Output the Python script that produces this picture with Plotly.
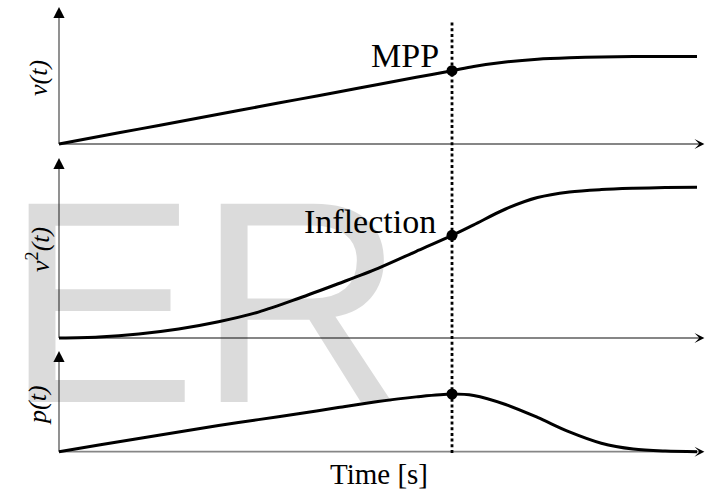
import plotly.graph_objects as go

# Time samples [s] and the three normalised signals
time_s = [0, 0.625, 1.25, 1.875, 2.5, 3.125, 3.75, 4.375, 5, 5.6, 6.16,
          6.5, 7, 7.5, 8, 8.5, 9, 9.5, 10]
velocity = [0, 0.085, 0.170, 0.255, 0.340, 0.425, 0.510, 0.595, 0.680, 0.762, 0.838,
            0.886, 0.937, 0.969, 0.985, 0.994, 0.999, 1.0, 1.0]
velocity_sq = [0, 0.007, 0.027, 0.060, 0.108, 0.172, 0.262, 0.360, 0.462, 0.575, 0.681,
               0.751, 0.856, 0.932, 0.969, 0.985, 0.993, 0.998, 1.0]
power = [0, 0.115, 0.229, 0.342, 0.454, 0.556, 0.657, 0.765, 0.870, 0.950, 1.0,
         0.974, 0.818, 0.594, 0.343, 0.147, 0.045, 0.010, 0]
mark_index = 10         # sample at the maximum power point
panel_labels = ["<i>v(t)</i>", "<i>v</i><sup>2</sup><i>(t)</i>", "<i>p(t)</i>"]
point_labels = ["MPP", "Inflection"]
x_title = "Time [s]"

W, H = 717, 489
SERIF = "Times New Roman"
AXIS_GREY = "#868686"


def fx(px):
    return px / W


def fy(px):
    return 1 - px / H


# pixel geometry of the three stacked panels
X_ORIGIN, X_END_DATA, X_ARROW = 59, 697, 707
BASE = [144, 338, 451.7]     # baseline of each panel
TIP = [4, 155, 348]          # top of each vertical arrow
UNIT = [87.5, 150.7, 57.7]   # pixels per signal unit
PAD = 6

x_scale = (X_END_DATA - X_ORIGIN) / time_s[-1]
x_range = [-PAD / x_scale, (W - X_ORIGIN) / x_scale]
x_domain = [fx(X_ORIGIN - PAD), 1.0]

fig = go.Figure()
series = [velocity, velocity_sq, power]
layout_axes = {}
for i, vals in enumerate(series):
    n = "" if i == 0 else str(i + 1)
    fig.add_trace(go.Scatter(
        x=time_s, y=vals, mode="lines",
        line=dict(color="black", width=3, shape="spline", smoothing=0.9),
        xaxis="x" + n, yaxis="y" + n, hoverinfo="skip", cliponaxis=False,
    ))
    fig.add_trace(go.Scatter(
        x=[time_s[mark_index]], y=[vals[mark_index]], mode="markers",
        marker=dict(color="black", size=11),
        xaxis="x" + n, yaxis="y" + n, hoverinfo="skip", cliponaxis=False,
    ))
    hidden = dict(visible=False, showgrid=False, zeroline=False, fixedrange=True)
    layout_axes["xaxis" + n] = dict(domain=x_domain, range=x_range,
                                    anchor="y" + n, **hidden)
    layout_axes["yaxis" + n] = dict(
        domain=[fy(BASE[i] + PAD), fy(TIP[i])],
        range=[-PAD / UNIT[i], (BASE[i] - TIP[i]) / UNIT[i]],
        anchor="x" + n, **hidden)

shapes = []
annotations = [
    # large pale watermark behind the curves
    dict(text="ER", x=fx(205), y=fy(302), xref="paper", yref="paper",
         xanchor="center", yanchor="middle", showarrow=False,
         font=dict(family="Arial", size=288,
                   color="rgba(0,0,0,0.14)")),
]

for i in range(3):
    # horizontal time axis and vertical signal axis
    shapes.append(dict(type="line", xref="paper", yref="paper", layer="below",
                       x0=fx(X_ORIGIN), x1=fx(X_ARROW - 6), y0=fy(BASE[i]), y1=fy(BASE[i]),
                       line=dict(color=AXIS_GREY, width=1.8)))
    shapes.append(dict(type="line", xref="paper", yref="paper", layer="below",
                       x0=fx(X_ORIGIN), x1=fx(X_ORIGIN), y0=fy(BASE[i]), y1=fy(TIP[i] + 6),
                       line=dict(color=AXIS_GREY, width=1.8)))
    # arrow heads
    annotations.append(dict(x=fx(X_ARROW - 2.6), y=fy(BASE[i]), xref="paper", yref="paper",
                            ax=-7, ay=0, text="", showarrow=True, arrowhead=3,
                            arrowsize=1.1, arrowwidth=1.5, arrowcolor="black"))
    annotations.append(dict(x=fx(X_ORIGIN), y=fy(TIP[i] + 2.9), xref="paper", yref="paper",
                            ax=0, ay=7, text="", showarrow=True, arrowhead=2,
                            arrowsize=1.4, arrowwidth=1.6, arrowcolor="black"))

# dotted marker line through the maximum power point
shapes.append(dict(type="line", xref="x", yref="paper", layer="below",
                   x0=time_s[mark_index], x1=time_s[mark_index],
                   y0=fy(453), y1=fy(21),
                   line=dict(color="black", width=2.8, dash="3px,2.7px")))

# rotated signal labels
for label, (cx, cy) in zip(panel_labels, [(39, 78), (38, 250), (37, 405)]):
    annotations.append(dict(text=label, x=fx(cx), y=fy(cy), xref="paper", yref="paper",
                            xanchor="center", yanchor="middle", textangle=-90,
                            showarrow=False, font=dict(family=SERIF, size=26, color="black")))

annotations.append(dict(text=point_labels[0], x=fx(405), y=fy(55.6), xref="paper", yref="paper",
                        xanchor="center", yanchor="middle", showarrow=False,
                        font=dict(family=SERIF, size=34, color="black")))
annotations.append(dict(text=point_labels[1], x=fx(370), y=fy(221.5), xref="paper", yref="paper",
                        xanchor="center", yanchor="middle", showarrow=False,
                        font=dict(family=SERIF, size=34, color="black")))
annotations.append(dict(text=x_title, x=fx(379), y=fy(473.5), xref="paper", yref="paper",
                        xanchor="center", yanchor="middle", showarrow=False,
                        font=dict(family=SERIF, size=29, color="black")))

fig.update_layout(
    width=W, height=H,
    margin=dict(l=0, r=0, t=0, b=0),
    paper_bgcolor="white", plot_bgcolor="white",
    showlegend=False,
    shapes=shapes, annotations=annotations,
    **layout_axes,
)

fig.write_html("out.html", config={"displayModeBar": False})
